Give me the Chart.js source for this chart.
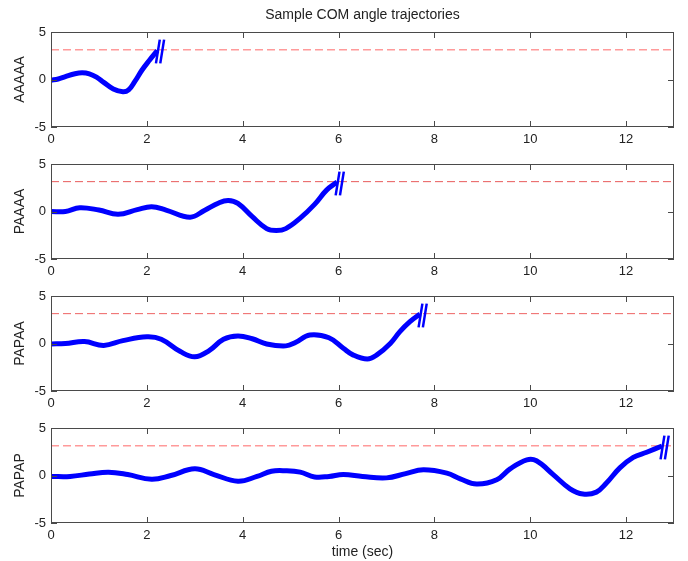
<!DOCTYPE html>
<html>
<head>
<meta charset="utf-8">
<script src="https://cdn.jsdelivr.net/npm/chart.js@4"></script>
<style>
  body { margin: 0; background: #fff; }
  #wrap { position: relative; width: 688px; height: 561px; }
  #wrap canvas { position: absolute; left: 0; }
</style>
</head>
<body>
<div id="wrap"></div>
<script>
// chart data
var chartTitle = 'Sample COM angle trajectories';
var xLabel = 'time (sec)';
var seriesNames = ['AAAAA', 'PAAAA', 'PAPAA', 'PAPAP'];
var xTicks = [0, 2, 4, 6, 8, 10, 12];
var yTicks = [-5, 0, 5];
var threshold = Math.PI;

var tAAAAA = [0, 0.15, 0.3, 0.5, 0.65, 0.8, 0.95, 1.1, 1.3, 1.5, 1.62, 1.75, 1.9, 2.05, 2.22];
var yAAAAA = [-0.07, 0.05, 0.3, 0.6, 0.7, 0.6, 0.25, -0.3, -1.0, -1.3, -1.1, -0.2, 1.0, 2.0, 3.05];

var tPAAAA = [0, 0.3, 0.6, 1.0, 1.4, 1.8, 2.1, 2.4, 2.9, 3.2, 3.5, 3.7, 3.9, 4.2, 4.5, 4.7, 4.9, 5.2, 5.5, 5.75, 5.97];
var yPAAAA = [0, 0.0, 0.4, 0.15, -0.3, 0.2, 0.5, 0.15, -0.6, 0.1, 0.9, 1.15, 0.85, -0.55, -1.8, -2.0, -1.8, -0.7, 0.75, 2.25, 3.1];

var tPAPAA = [0, 0.3, 0.7, 1.1, 1.5, 2.0, 2.3, 2.7, 3.0, 3.3, 3.6, 3.9, 4.2, 4.5, 4.9, 5.1, 5.4, 5.8, 6.1, 6.3, 6.6, 6.8, 7.08, 7.28, 7.49, 7.7];
var yPAPAA = [-0.05, 0, 0.2, -0.2, 0.3, 0.7, 0.45, -0.85, -1.4, -0.75, 0.45, 0.8, 0.5, -0.05, -0.25, 0.1, 0.9, 0.6, -0.5, -1.2, -1.63, -1.2, 0, 1.25, 2.3, 3.1];

var tPAPAP = [0, 0.4, 0.8, 1.2, 1.6, 2.1, 2.5, 3.0, 3.4, 3.9, 4.3, 4.6, 4.9, 5.2, 5.5, 5.8, 6.1, 6.5, 7.0, 7.4, 7.77, 8.26, 8.54, 8.88, 9.3, 9.58, 9.93, 10.13, 10.48, 10.83, 11.1, 11.38, 11.59, 11.87, 12.15, 12.43, 12.75];
var yPAPAP = [-0.1, -0.1, 0.15, 0.35, 0.1, -0.4, 0, 0.7, 0.1, -0.6, -0.1, 0.45, 0.5, 0.35, -0.15, -0.1, 0.1, -0.1, -0.25, 0.2, 0.6, 0.25, -0.35, -0.9, -0.45, 0.7, 1.65, 1.55, 0.1, -1.4, -1.95, -1.75, -0.8, 0.8, 1.9, 2.45, 3.1];

var times = [tAAAAA, tPAAAA, tPAPAA, tPAPAP];
var values = [yAAAAA, yPAAAA, yPAPAA, yPAPAP];

// styles
var dashColors = ['#ff9a9a', '#e85a5a', '#ee6262', '#ff9a9a'];
var dashWidths = [1.5, 1, 1, 1.5];
var axisColor = '#4a4a4a';
var textColor = '#222';
var fontFamily = '"Liberation Sans", Arial, sans-serif';
var breakLow = 1.7, breakHigh = 4.2, breakSlant = 0.08, breakGap = 0.09;

// MATLAB style box with inward ticks
var boxPlugin = {
    id: 'box',
    afterDraw: function(chart) {
        var ctx = chart.ctx, a = chart.chartArea;
        var xs = chart.scales.x, ys = chart.scales.y;
        ctx.save();
        ctx.strokeStyle = axisColor;
        ctx.lineWidth = 1;
        ctx.strokeRect(Math.round(a.left) + 0.5, Math.round(a.top) + 0.5,
            Math.round(a.right - a.left) - 1, Math.round(a.bottom - a.top) - 1);
        ctx.beginPath();
        xs.ticks.forEach(function(tk) {
            var px = Math.round(xs.getPixelForValue(tk.value)) + 0.5;
            ctx.moveTo(px, a.bottom); ctx.lineTo(px, a.bottom - 6);
            ctx.moveTo(px, a.top); ctx.lineTo(px, a.top + 6);
        });
        ys.ticks.forEach(function(tk) {
            var py = Math.round(ys.getPixelForValue(tk.value)) + 0.5;
            ctx.moveTo(a.left, py); ctx.lineTo(a.left + 6, py);
            ctx.moveTo(a.right, py); ctx.lineTo(a.right - 6, py);
        });
        ctx.stroke();
        ctx.restore();
    }
};

var wrap = document.getElementById('wrap');

seriesNames.forEach(function(name, i) {
    var last = i === seriesNames.length - 1;
    var h = last ? 165 : 160;
    var canvas = document.createElement('canvas');
    canvas.width = 688;
    canvas.height = h;
    canvas.style.top = (132 * i) + 'px';
    wrap.appendChild(canvas);

    var t = times[i], v = values[i];
    var pts = t.map(function(x, k) { return { x: x, y: v[k] }; });
    var xe = t[t.length - 1];
    var breakPts = [
        { x: xe - 0.03, y: breakLow }, { x: xe - 0.03 + breakSlant, y: breakHigh },
        { x: xe, y: null },
        { x: xe - 0.03 + breakGap, y: breakLow }, { x: xe - 0.03 + breakGap + breakSlant, y: breakHigh }
    ];

    new Chart(canvas.getContext('2d'), {
        type: 'line',
        data: {
            datasets: [{
                data: pts,
                borderColor: '#0000ff',
                borderWidth: 5,
                tension: 0.4,
                pointRadius: 0,
                fill: false
            }, {
                data: breakPts,
                borderColor: '#0000ff',
                borderWidth: 2.5,
                pointRadius: 0,
                spanGaps: false,
                fill: false
            }, {
                data: [{ x: 0, y: threshold }, { x: 13, y: threshold }],
                borderColor: dashColors[i],
                borderWidth: dashWidths[i],
                borderDash: [8, 4],
                pointRadius: 0,
                fill: false
            }]
        },
        options: {
            responsive: false,
            animation: false,
            events: [],
            layout: { padding: { top: i === 0 ? 0 : 32, right: 14, left: 0, bottom: 0 } },
            plugins: {
                legend: { display: false },
                tooltip: { enabled: false },
                title: {
                    display: i === 0,
                    text: chartTitle,
                    fullSize: false,
                    color: textColor,
                    font: { family: fontFamily, size: 14, weight: 'normal' },
                    padding: { top: 7, bottom: 8.2 }
                }
            },
            scales: {
                x: {
                    type: 'linear',
                    min: 0,
                    max: 13,
                    afterBuildTicks: function(s) { s.ticks = xTicks.map(function(val) { return { value: val }; }); },
                    afterFit: function(s) { s.height = h - 32 - 95; },
                    grid: { display: false, drawTicks: false },
                    border: { display: false },
                    ticks: {
                        padding: 5,
                        color: textColor,
                        maxRotation: 0,
                        autoSkip: false,
                        font: { family: fontFamily, size: 13 }
                    },
                    title: {
                        display: last,
                        text: xLabel,
                        color: textColor,
                        font: { family: fontFamily, size: 14 },
                        padding: 0
                    }
                },
                y: {
                    min: -5,
                    max: 5,
                    afterBuildTicks: function(s) { s.ticks = yTicks.map(function(val) { return { value: val }; }); },
                    afterFit: function(s) { s.width = 51; },
                    grid: { display: false, drawTicks: false },
                    border: { display: false },
                    ticks: {
                        padding: 5,
                        color: textColor,
                        font: { family: fontFamily, size: 13 }
                    },
                    title: {
                        display: true,
                        text: name,
                        color: textColor,
                        font: { family: fontFamily, size: 14 },
                        padding: { top: 12, bottom: 0 }
                    }
                }
            }
        },
        plugins: [boxPlugin]
    });
});
</script>
</body>
</html>
